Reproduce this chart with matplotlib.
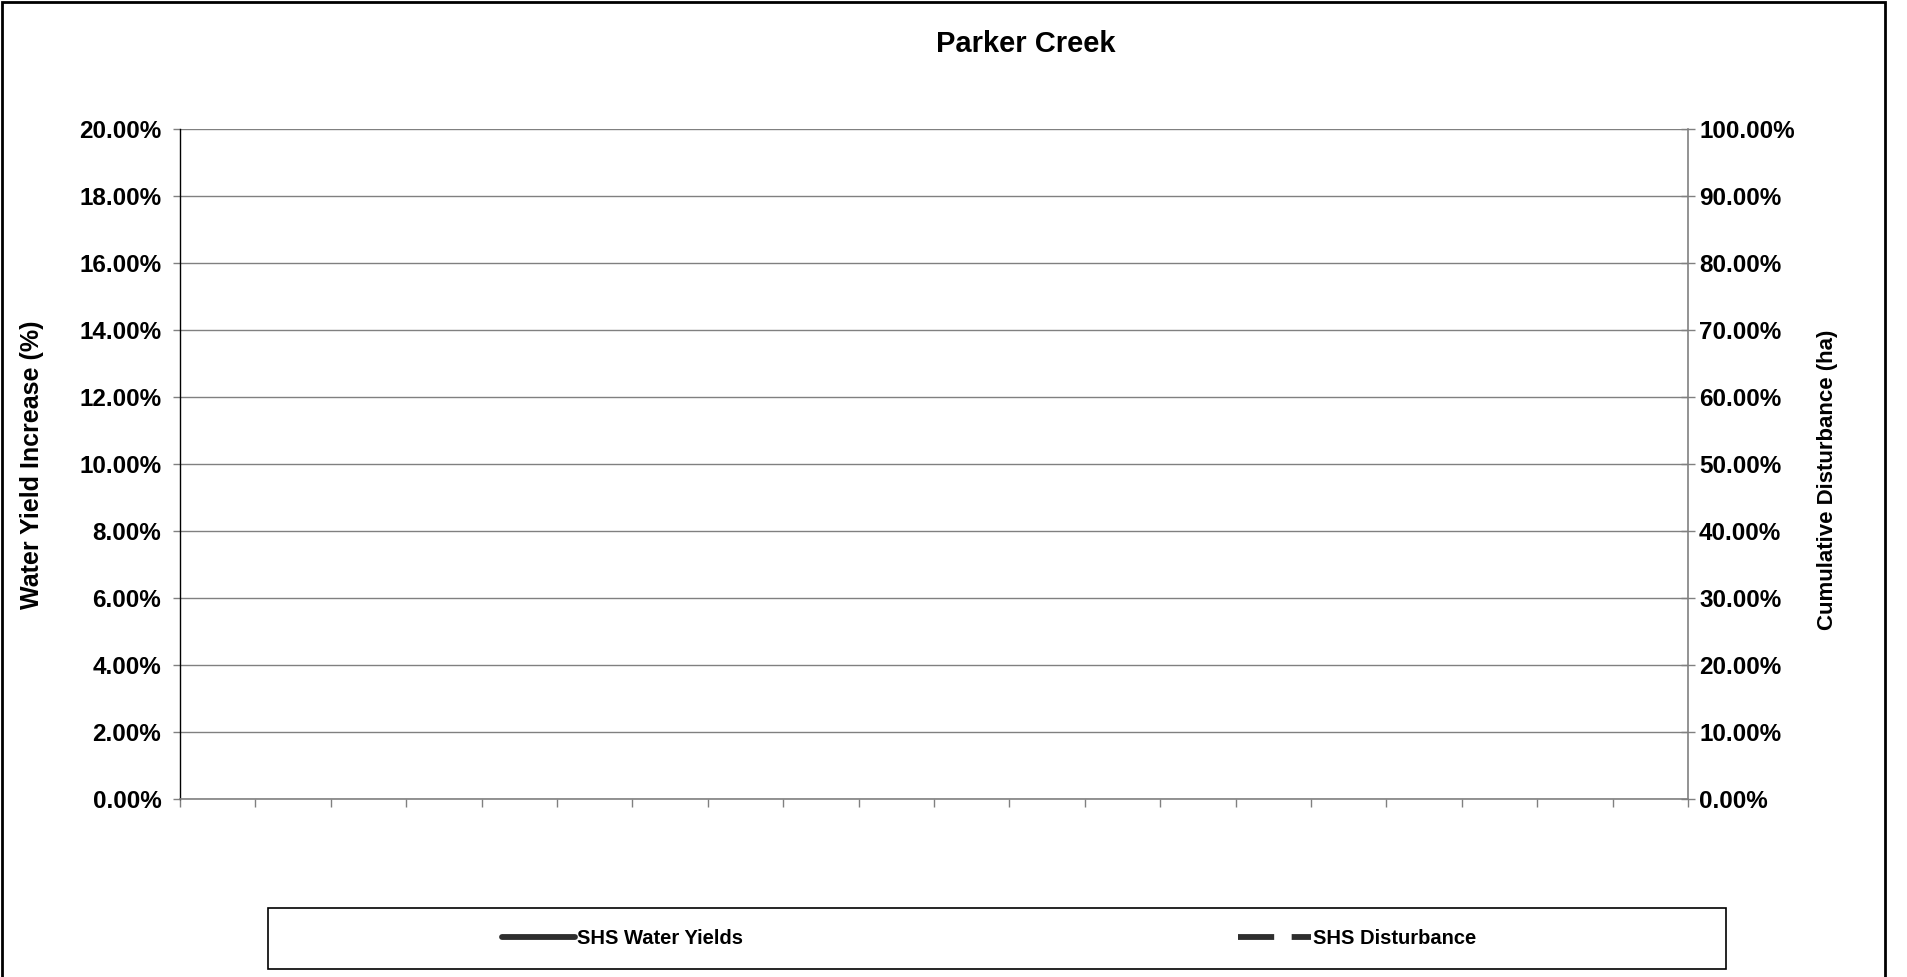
import numpy as np
import matplotlib
matplotlib.use("Agg")
import matplotlib.pyplot as plt
from matplotlib.ticker import FuncFormatter, FixedLocator, NullFormatter
from matplotlib.patches import Rectangle

plt.rcParams['font.family'] = ['Liberation Sans', 'DejaVu Sans']
plt.rcParams['font.weight'] = 'bold'

# ---- data (the series are empty in the reference) ----
title = "Parker Creek"
categories = [""] * 20
shs_water_yields = [np.nan] * 20
shs_disturbance = [np.nan] * 20
left_ticks = [0.00, 0.02, 0.04, 0.06, 0.08, 0.10, 0.12, 0.14, 0.16, 0.18, 0.20]
right_ticks = [0.0, 0.1, 0.2, 0.3, 0.4, 0.5, 0.6, 0.7, 0.8, 0.9, 1.0]
left_label = "Water Yield Increase (%)"
right_label = "Cumulative Disturbance (ha)"
series_names = ["SHS Water Yields", "SHS Disturbance"]

W, H = 1907, 977
fig = plt.figure(figsize=(W / 100, H / 100), dpi=100)
fig.patch.set_facecolor("white")

def fx(px):
    return px / W

def fy(py):
    return 1 - py / H

L, R, T, B = 180, 1688, 129, 799
ax = fig.add_axes([fx(L), fy(B), fx(R - L), (B - T) / H])
ax2 = ax.twinx()

grey = "#808080"
line_col = "#2e2e2e"
x = np.arange(len(categories))

ax.plot(x, shs_water_yields, color=line_col, lw=4.2, solid_capstyle="round",
        label=series_names[0])
ax2.plot(x, shs_disturbance, color=line_col, lw=4.2, dashes=(6.2, 3.0),
         dash_capstyle="butt", label=series_names[1])

ax.set_xlim(-0.5, len(categories) - 0.5)
ax.xaxis.set_major_locator(FixedLocator(np.arange(-0.5, len(categories), 1.0)))
ax.xaxis.set_major_formatter(NullFormatter())
ax.tick_params(axis="x", direction="out", length=6, width=1, color=grey)

ax.set_ylim(0, 0.20)
ax.set_yticks(left_ticks)
ax.yaxis.set_major_formatter(FuncFormatter(lambda v, p: f"{v*100:.2f}%"))
ax.tick_params(axis="y", direction="out", length=5, width=1, color=grey,
               pad=8.5, labelsize=17.5)
ax.grid(axis="y", color=grey, lw=1)
ax.set_axisbelow(True)

ax2.set_ylim(0, 1.0)
ax2.set_yticks(right_ticks)
ax2.yaxis.set_major_formatter(FuncFormatter(lambda v, p: f"{v*100:.2f}%"))
ax2.tick_params(axis="y", direction="inout", length=10, width=1, color=grey,
                pad=3, labelsize=17.5)

for a in (ax, ax2):
    a.spines["top"].set_visible(False)
ax.spines["right"].set_visible(False)
ax.spines["left"].set_color("black")
ax.spines["left"].set_linewidth(1)
ax.spines["bottom"].set_color(grey)
ax.spines["bottom"].set_linewidth(1.2)
ax2.spines["left"].set_visible(False)
ax2.spines["bottom"].set_visible(False)
ax2.spines["right"].set_color(grey)
ax2.spines["right"].set_linewidth(1.2)

for lab in ax.get_yticklabels() + ax2.get_yticklabels():
    lab.set_fontweight("bold")

fig.text(fx(1026), fy(44), title, ha="center", va="center",
         fontsize=21, fontweight="bold")
fig.text(fx(32), fy(465), left_label, ha="center", va="center",
         rotation=90, fontsize=18, fontweight="bold")
fig.text(fx(1827), fy(480), right_label, ha="center", va="center",
         rotation=90, fontsize=16, fontweight="bold")

# legend
h1, l1 = ax.get_legend_handles_labels()
h2, l2 = ax2.get_legend_handles_labels()
leg = fig.legend(h1 + h2, l1 + l2, loc="center", ncol=2,
                 bbox_to_anchor=(fx(989), fy(939)), frameon=False,
                 handlelength=3.6, handletextpad=0.1,
                 columnspacing=24.6, prop={"weight": "bold", "size": 14.5})

fig.add_artist(Rectangle((fx(268), fy(969)), fx(1726 - 268), (969 - 908) / H,
                         transform=fig.transFigure, fill=False,
                         edgecolor="black", lw=1.2, clip_on=False))
# outer chart border
fig.add_artist(Rectangle((fx(1.5), -0.05), fx(1885 - 1.5), 1.05 - 2 / H,
                         transform=fig.transFigure, fill=False,
                         edgecolor="black", lw=2, clip_on=False))

fig.savefig("out.png", dpi=100, facecolor="white")
